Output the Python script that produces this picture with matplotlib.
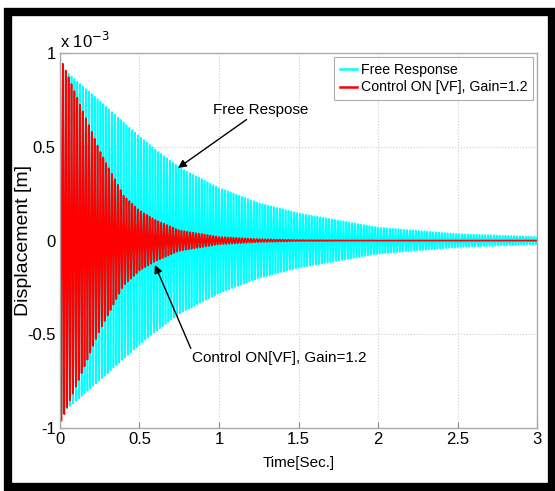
import numpy as np
import matplotlib
matplotlib.use("Agg")
import matplotlib.pyplot as plt
from matplotlib.patches import Rectangle
from matplotlib.ticker import FuncFormatter

# envelope of the response (m) at these times (s)
t_env = [0.0, 0.1, 0.25, 0.4, 0.5, 0.6, 0.75, 1.0, 1.25, 1.5, 2.0, 2.5, 3.0]
free_env = [0.93e-3, 0.855e-3, 0.745e-3, 0.63e-3, 0.555e-3, 0.485e-3, 0.39e-3,
            0.28e-3, 0.20e-3, 0.145e-3, 0.07e-3, 0.035e-3, 0.02e-3]
ctrl_env = [0.98e-3, 0.78e-3, 0.48e-3, 0.24e-3, 0.16e-3, 0.11e-3, 0.055e-3,
            0.02e-3, 0.008e-3, 0.003e-3, 0.0005e-3, 0.0001e-3, 0.0]
f_osc = 55.0  # Hz, carrier of both responses
fs = 4000.0   # sample rate of the simulated signal

x_ticks = [0, 0.5, 1, 1.5, 2, 2.5, 3]
y_ticks = [-1e-3, -0.5e-3, 0, 0.5e-3, 1e-3]

plt.rcParams['font.family'] = ['Liberation Sans', 'DejaVu Sans']

t = np.arange(0, 3.0 + 1 / fs, 1 / fs)
carrier = np.cos(2 * np.pi * f_osc * t)
free_resp = np.interp(t, t_env, free_env) * carrier
ctrl_resp = np.interp(t, t_env, ctrl_env) * carrier

fig = plt.figure(figsize=(5.55, 4.91), dpi=100)
ax = fig.add_axes([0.108, 0.128, 0.860, 0.764])

ax.plot(t, free_resp, color='#00ffff', lw=1.2, label='Free Response')
ax.plot(t, ctrl_resp, color='#ff0000', lw=1.2, label='Control ON [VF], Gain=1.2')

ax.set_xlim(0, 3)
ax.set_ylim(-1e-3, 1e-3)
ax.set_xticks(x_ticks)
ax.set_yticks(y_ticks)
ax.xaxis.set_major_formatter(FuncFormatter(lambda v, p: f"{v:g}"))
ax.yaxis.set_major_formatter(FuncFormatter(lambda v, p: f"{v * 1e3:g}"))
ax.tick_params(direction='in', length=4, color='#888888', labelsize=12, pad=3,
               top=False, right=False)
for s in ax.spines.values():
    s.set_color('#aaaaaa')
    s.set_linewidth(1.0)
ax.grid(True, ls=':', color='#cccccc', lw=0.8)

ax.text(0.0, 1.005, r'x 10$^{-3}$', transform=ax.transAxes, fontsize=12,
        ha='left', va='bottom')
ax.set_xlabel('Time[Sec.]', fontsize=11, labelpad=6)
ax.set_ylabel('Displacement [m]', fontsize=14)
ax.yaxis.set_label_coords(-0.058, 0.5)

# annotations
ax.annotate('Free Respose', xy=(0.742, 0.387e-3), xytext=(0.96, 0.66e-3),
            fontsize=11, ha='left', va='bottom',
            arrowprops=dict(arrowstyle='-|>', color='black', lw=1.0,
                            shrinkA=0, shrinkB=0, mutation_scale=12))
ax.annotate('Control ON[VF], Gain=1.2', xy=(0.597, -0.13e-3), xytext=(0.83, -0.627e-3),
            fontsize=11, ha='left', va='center',
            arrowprops=dict(arrowstyle='-|>', color='black', lw=1.0,
                            shrinkA=0, shrinkB=0, mutation_scale=12,
                            relpos=(0.0, 1.0)))

leg = ax.legend(loc='upper right', fontsize=10.2, frameon=True, fancybox=False,
                borderaxespad=0.3, handlelength=1.2, handletextpad=0.3,
                borderpad=0.4, labelspacing=0.25)
leg.get_frame().set_edgecolor('#999999')
leg.get_frame().set_linewidth(0.8)
for ln in leg.get_lines():
    ln.set_linewidth(1.8)

# thick black frame round the figure
fig.patches.append(Rectangle((7.5 / 555, 4 / 491), 544 / 555, 475 / 491,
                             transform=fig.transFigure, fill=False,
                             edgecolor='black', lw=6, zorder=10))

fig.savefig('out.png', dpi=100, facecolor='white')
